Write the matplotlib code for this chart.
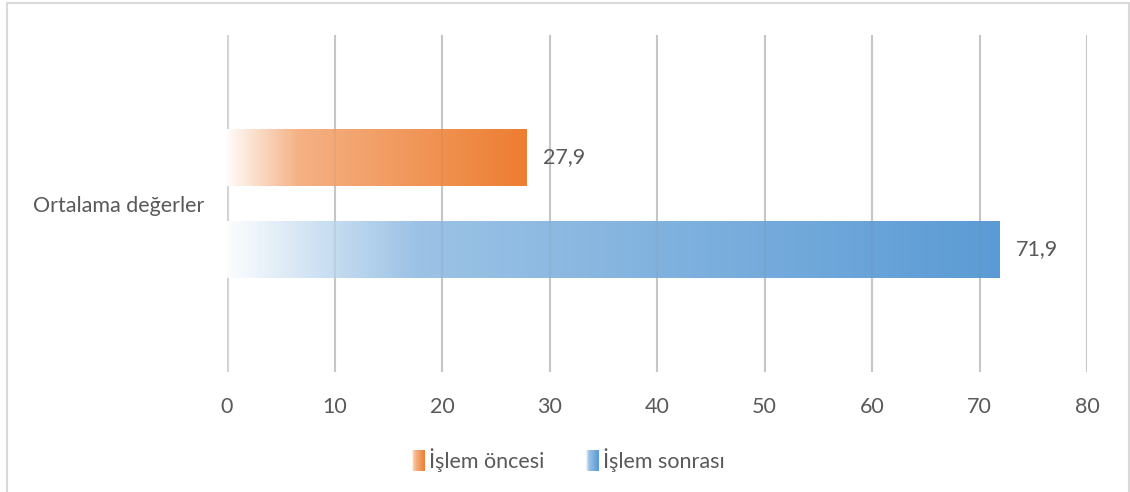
import numpy as np
import matplotlib
matplotlib.use("Agg")
import matplotlib.pyplot as plt
from matplotlib.colors import LinearSegmentedColormap, to_rgb
from matplotlib.patches import Rectangle, Patch
from matplotlib.legend_handler import HandlerBase

# veri
kategori = ["Ortalama değerler"]
seriler = ["İşlem öncesi", "İşlem sonrası"]
degerler = [27.9, 71.9]
renkler = ["#ED7D31", "#5B9BD5"]
x_ticks = [0, 10, 20, 30, 40, 50, 60, 70, 80]

plt.rcParams["font.family"] = ["Lato", "DejaVu Sans"]
yazi_rengi = "#595959"
fs = 15.5


def gradyan(renk):
    c = np.array(to_rgb(renk))
    w = np.ones(3)
    return LinearSegmentedColormap.from_list(
        "g", [(0.0, 0.97 * w + 0.03 * c), (0.24, 0.4 * w + 0.6 * c), (1.0, c)])


class GradyanKutu(HandlerBase):
    def create_artists(self, legend, orig_handle, xdescent, ydescent,
                       width, height, fontsize, trans):
        cmap = gradyan(orig_handle.get_facecolor())
        n = 12
        w = 9.0
        x0 = -xdescent + width - w
        arts = []
        for i in range(n):
            r = Rectangle((x0 + i * w / n, -ydescent - 2), w / n + 0.2, height + 4,
                          facecolor=cmap((i + 0.5) / n), edgecolor="none",
                          transform=trans)
            arts.append(r)
        return arts


fig = plt.figure(figsize=(11.3, 4.92), dpi=100)
ax = fig.add_axes([227 / 1130, 1 - 372 / 492, 860 / 1130, 337 / 492])

# çerçeve
fig.patches.append(Rectangle((7 / 1130, -0.1), 1122 / 1130, 1.1 - 3 / 492,
                             transform=fig.transFigure, fill=False,
                             edgecolor="#D9D9D9", linewidth=1.5))

ax.set_xlim(0, 80)
ax.set_ylim(-0.5, 0.5)
ax.set_xticks(x_ticks)
ax.set_xticklabels([str(t) for t in x_ticks], fontsize=fs, color=yazi_rengi)
ax.set_yticks([0])
ax.set_yticklabels(kategori, fontsize=fs, color=yazi_rengi)
ax.tick_params(axis="x", length=0, pad=18)
ax.tick_params(axis="y", length=0, pad=16)
for s in ax.spines.values():
    s.set_visible(False)
ax.grid(axis="x", color="#D0D0D0", linewidth=1.5, zorder=0)
ax.axvline(0, color="#D9D9D9", linewidth=3, zorder=1)

bar_h = 58 / 337
konumlar = [bar_h / 2 + 34 / 337 / 2, -(bar_h / 2 + 34 / 337 / 2)]
bars = ax.barh(konumlar, degerler, height=bar_h, color="none", zorder=2)
for bar, renk, deger in zip(bars, renkler, degerler):
    x0, y0 = bar.get_x(), bar.get_y()
    w, h = bar.get_width(), bar.get_height()
    im = ax.imshow(np.linspace(0, 1, 256).reshape(1, -1), cmap=gradyan(renk),
                   extent=[x0, x0 + w, y0, y0 + h], aspect="auto", zorder=2,
                   interpolation="bilinear")
    im.set_clip_path(bar)
    ax.text(x0 + w + 1.5, y0 + h / 2, f"{deger:.1f}".replace(".", ","),
            va="center", ha="left", fontsize=fs, color=yazi_rengi)

# ızgara çizgileri çubukların içinden hafifçe görünür
for t in x_ticks[1:]:
    ax.axvline(t, color="#808080", linewidth=1.5, alpha=0.12, zorder=3)

ax.set_xlim(0, 80)
ax.set_ylim(-0.5, 0.5)

handles = [Patch(facecolor=r, label=s) for r, s in zip(renkler, seriler)]
fig.legend(handles=handles, loc="center", bbox_to_anchor=(0.5, 1 - 460 / 492),
           ncol=2, frameon=False, fontsize=fs, labelcolor=yazi_rengi,
           handler_map={Patch: GradyanKutu()}, handlelength=0.9,
           handletextpad=0.2, columnspacing=1.6)

fig.savefig("out.png", dpi=100)
